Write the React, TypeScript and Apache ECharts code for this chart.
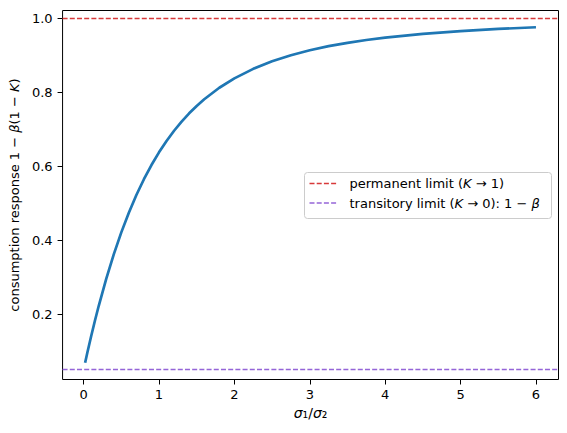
import React, { useEffect, useRef } from "react";
import * as echarts from "echarts";

const xValues = [0.02, 0.05, 0.1, 0.15, 0.2, 0.3, 0.4, 0.5, 0.6, 0.7, 0.8, 0.9, 1.0, 1.1, 1.2, 1.3, 1.4, 1.5, 1.6, 1.8, 2.0, 2.25, 2.5, 2.75, 3.0, 3.25, 3.5, 3.75, 4.0, 4.5, 5.0, 5.5, 6.0];
const yValues = [0.0688, 0.0963, 0.1403, 0.1822, 0.222, 0.2955, 0.3615, 0.4209, 0.4741, 0.5218, 0.5645, 0.6029, 0.6371, 0.6679, 0.6955, 0.7202, 0.7425, 0.7625, 0.7805, 0.8116, 0.837, 0.8627, 0.8831, 0.8996, 0.9129, 0.9239, 0.933, 0.9406, 0.9471, 0.9573, 0.9648, 0.9705, 0.975];
const permanentLimit = 1.0;
const transitoryLimit = 0.05;
const xTicks = [0, 1, 2, 3, 4, 5, 6];
const yTicks = [0.2, 0.4, 0.6, 0.8, 1.0];

const FONT = "DejaVu Sans";
const FS = 13;
const RED = "#d8393a";
const PURPLE = "#9565d8";

export default function App() {
  const ref = useRef<HTMLDivElement>(null);
  useEffect(() => {
    document.body.style.margin = "0";
    if (!ref.current) return;
    const chart = echarts.init(ref.current, null, { renderer: "svg" });
    const lineData = xValues.map((x, i) => [x, yValues[i]]);
    const rich = {
      i: { fontStyle: "italic", fontSize: FS, fontFamily: FONT, color: "#000" },
      n: { fontSize: FS, fontFamily: FONT, color: "#000" },
    };
    const richX = {
      i: { fontStyle: "italic", fontSize: 14, fontFamily: FONT, color: "#000" },
      n: { fontSize: 14, fontFamily: FONT, color: "#000" },
    };
    const richG = {
      i: { fontStyle: "italic", fontSize: FS, fontFamily: FONT, fill: "#000" },
      n: { fontSize: FS, fontFamily: FONT, fill: "#000" },
    };
    chart.setOption({
      animation: false,
      textStyle: { fontFamily: FONT },
      grid: {
        left: 62,
        right: 8.5,
        top: 10.5,
        bottom: 53.5,
        show: true,
        borderColor: "#000",
        borderWidth: 1,
        backgroundColor: "transparent",
      },
      xAxis: {
        type: "value",
        min: -0.279,
        max: 6.299,
        axisLine: { show: false, onZero: false },
        splitLine: { show: false },
        axisTick: { show: true, length: 5, lineStyle: { color: "#000" }, customValues: xTicks },
        axisLabel: {
          color: "#000",
          fontSize: FS,
          fontFamily: FONT,
          margin: 8,
          customValues: xTicks,
          formatter: (v: number) => String(v),
        },
        name: "{i|σ}{n|₁/}{i|σ}{n|₂}",
        nameLocation: "middle",
        nameGap: 26,
        nameTextStyle: { color: "#000", rich: richX },
      },
      yAxis: {
        type: "value",
        min: 0.0235,
        max: 1.0203,
        axisLine: { show: false, onZero: false },
        splitLine: { show: false },
        axisTick: { show: true, length: 5, lineStyle: { color: "#000" }, customValues: yTicks },
        axisLabel: {
          color: "#000",
          fontSize: FS,
          fontFamily: FONT,
          margin: 10,
          customValues: yTicks,
          formatter: (v: number) => v.toFixed(1),
        },
        name: "{n|consumption response 1 − }{i|β}{n|(1 − }{i|K}{n|)}",
        nameLocation: "middle",
        nameRotate: 90,
        nameGap: 38,
        nameTextStyle: { color: "#000", rich },
      },
      series: [
        {
          type: "line",
          data: lineData,
          showSymbol: false,
          symbol: "none",
          lineStyle: { color: "#1f77b4", width: 2.7 },
          z: 3,
        },
        {
          type: "line",
          data: [],
          markLine: {
            silent: true,
            symbol: "none",
            label: { show: false },
            lineStyle: { color: RED, width: 1.3, type: [5, 2.2], opacity: 1 },
            data: [{ yAxis: permanentLimit }],
          },
        },
        {
          type: "line",
          data: [],
          markLine: {
            silent: true,
            symbol: "none",
            label: { show: false },
            lineStyle: { color: PURPLE, width: 1.3, type: [5, 2.2], opacity: 1 },
            data: [{ yAxis: transitoryLimit }],
          },
        },
      ],
      graphic: [
        {
          type: "group",
          left: 304,
          top: 172,
          children: [
            {
              type: "rect",
              shape: { x: 0, y: 0, width: 247, height: 46, r: 3 },
              style: { fill: "rgba(255,255,255,0.8)", stroke: "#cccccc", lineWidth: 1 },
            },
            {
              type: "line",
              shape: { x1: 5, y1: 11, x2: 33, y2: 11 },
              style: { stroke: RED, lineWidth: 1.3, lineDash: [5, 2.2] },
            },
            {
              type: "line",
              shape: { x1: 5, y1: 30.5, x2: 33, y2: 30.5 },
              style: { stroke: PURPLE, lineWidth: 1.3, lineDash: [5, 2.2] },
            },
            {
              type: "text",
              x: 45,
              y: 11,
              style: {
                text: "{n|permanent limit (}{i|K}{n| → 1)}",
                verticalAlign: "middle",
                rich: richG,
              },
            },
            {
              type: "text",
              x: 45,
              y: 30.5,
              style: {
                text: "{n|transitory limit (}{i|K}{n| → 0): 1 − }{i|β}",
                verticalAlign: "middle",
                rich: richG,
              },
            },
          ],
        },
      ],
    });
    return () => chart.dispose();
  }, []);
  return <div ref={ref} style={{ width: 567, height: 433 }} />;
}
